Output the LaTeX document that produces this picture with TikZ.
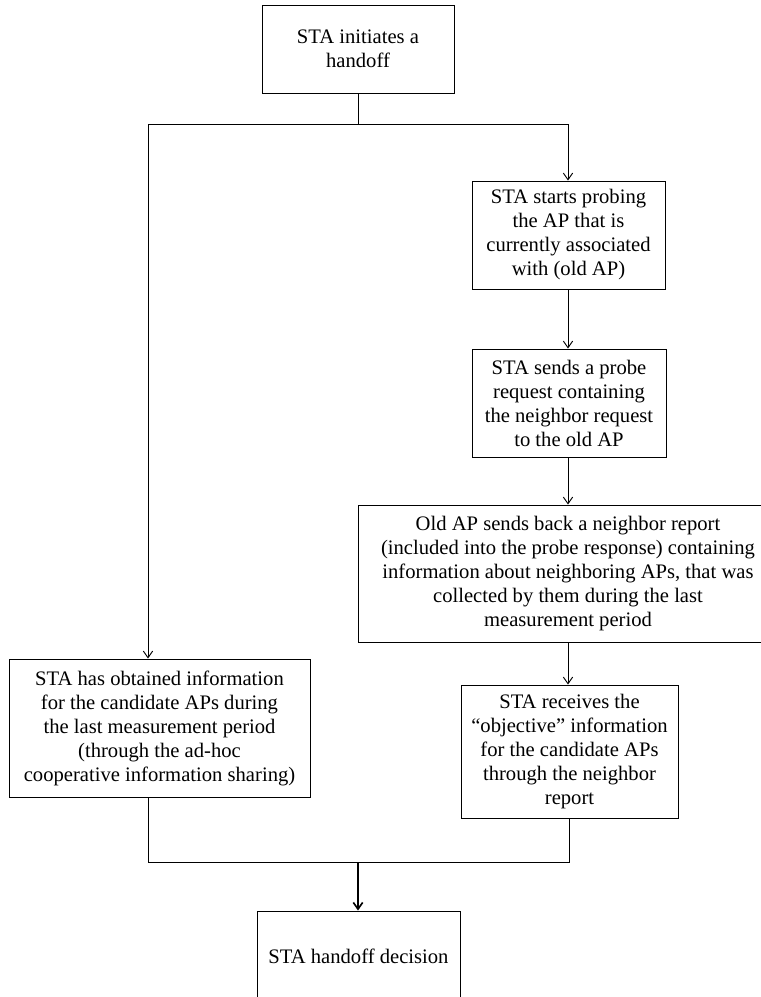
\documentclass[tikz,border=0pt]{standalone}
\usepackage{fontspec}
\setmainfont{Liberation Serif}
\usetikzlibrary{arrows.meta}
\tikzset{
  stepbox/.style={draw,line width=0.8pt,align=center,inner sep=2pt,
    font=\fontsize{17.6}{20.5}\selectfont},
  flow/.style={line width=0.8pt,-{Straight Barb[length=2mm,width=2.8mm]}},
  joinline/.style={line width=0.8pt}
}
\begin{document}
\begin{tikzpicture}[x=0.03cm,y=-0.03cm]
  \clip (0,0) rectangle (761,997);
  \node[stepbox,minimum width=192*0.03cm,minimum height=88*0.03cm] (top) at (358,49)
    {STA initiates a\\handoff};
  \node[stepbox,minimum width=193*0.03cm,minimum height=108*0.03cm] (probe) at (568.5,235)
    {STA starts probing\\the AP that is\\currently associated\\with (old AP)};
  \node[stepbox,minimum width=194*0.03cm,minimum height=108*0.03cm] (req) at (569,403)
    {STA sends a probe\\request containing\\the neighbor request\\to the old AP};
  \node[stepbox,minimum width=420*0.03cm,minimum height=137*0.03cm] (report) at (568,573.5)
    {Old AP sends back a neighbor report\\(included into the probe response) containing\\information about neighboring APs, that was\\collected by them during the last\\measurement period};
  \node[stepbox,minimum width=217*0.03cm,minimum height=133*0.03cm] (recv) at (569.5,751.5)
    {STA receives the\\``objective'' information\\for the candidate APs\\through the neighbor\\report};
  \node[stepbox,minimum width=301*0.03cm,minimum height=138*0.03cm] (coop) at (159.5,728)
    {STA has obtained information\\for the candidate APs during\\the last measurement period\\(through the ad-hoc\\cooperative information sharing)};
  \node[stepbox,minimum width=203*0.03cm,minimum height=90*0.03cm] (decide) at (358.5,956)
    {STA handoff decision};
  % split after the start
  \coordinate (sl) at (148,124);
  \coordinate (sr) at (568,124);
  \draw[joinline] (top.south) -- (top.south |- sl);
  \draw[joinline] (sl) -- (sr);
  \draw[flow] (sl) -- (sl |- coop.north);
  \draw[flow] (sr) -- (sr |- probe.north);
  % right column
  \draw[flow] (probe.south -| sr) -- (req.north -| sr);
  \draw[flow] (req.south -| sr) -- (report.north -| sr);
  \draw[flow] (report.south -| sr) -- (recv.north -| sr);
  % merge
  \coordinate (ml) at (148,862);
  \coordinate (mr) at (569,862);
  \coordinate (mc) at (358,862);
  \draw[joinline] (coop.south -| ml) -- (ml) -- (mr) -- (recv.south -| mr);
  \draw[flow,line width=1.4pt] (mc) -- (decide.north -| mc);
\end{tikzpicture}
\end{document}
